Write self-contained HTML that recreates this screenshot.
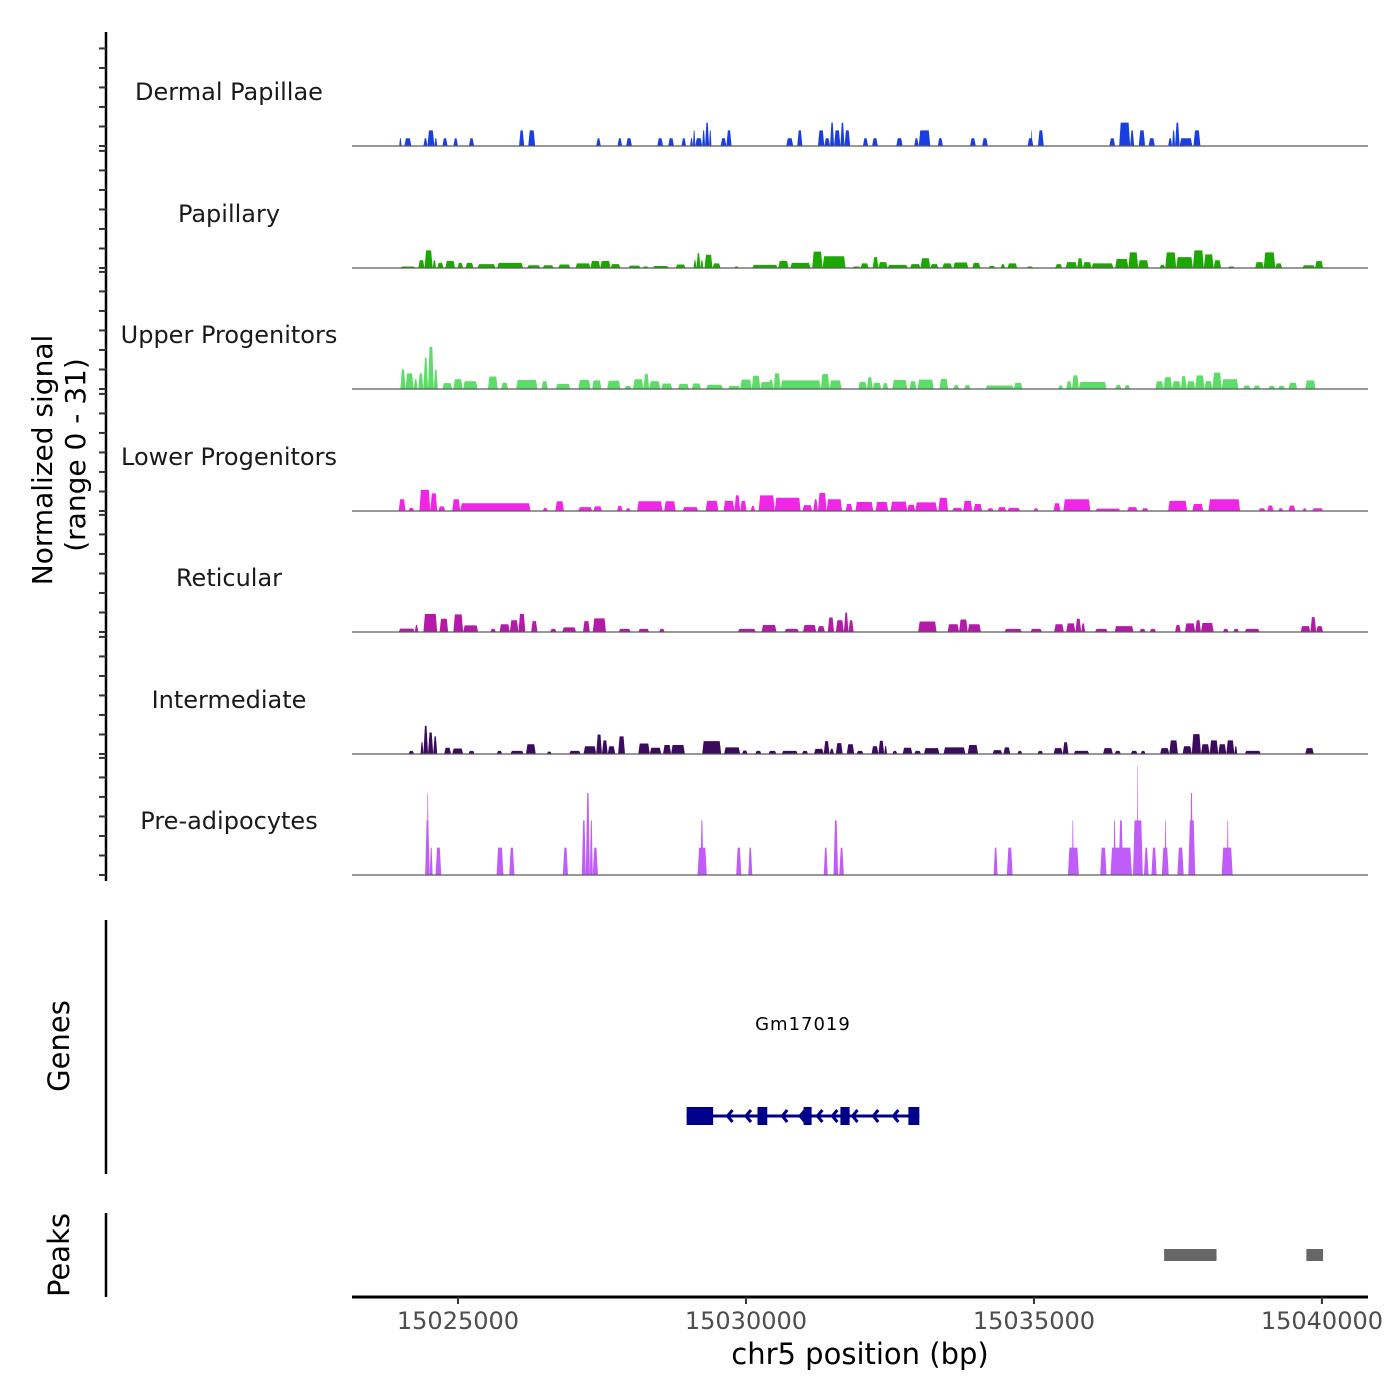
<!DOCTYPE html>
<html><head><meta charset="utf-8"><title>Coverage plot chr5</title>
<style>
html,body{margin:0;padding:0;background:#fff;}
svg{display:block;font-family:"DejaVu Sans","Liberation Sans",sans-serif;}
</style></head>
<body>
<svg id="chart" width="1400" height="1400" viewBox="0 0 1400 1400" xmlns="http://www.w3.org/2000/svg">
<rect x="0" y="0" width="1400" height="1400" fill="#fff"/>
<text transform="translate(52,460) rotate(-90)" text-anchor="middle" font-size="28" fill="#000">Normalized signal</text>
<text transform="translate(85,455) rotate(-90)" text-anchor="middle" font-size="28" fill="#000">(range 0 - 31)</text>
<text transform="translate(69,1046) rotate(-90)" text-anchor="middle" font-size="29" fill="#000">Genes</text>
<text transform="translate(69,1255) rotate(-90)" text-anchor="middle" font-size="29" fill="#000">Peaks</text>
<g id="tracks"></g>
<g id="genes"></g>
<g id="peaks"></g>
<g id="xaxis"></g>
<text x="860" y="1364" text-anchor="middle" font-size="29" fill="#000">chr5 position (bp)</text>
</svg>
<script>
// ---- data (positions in kb, values in normalized signal units) ----
const xDomainKb = [15023.16, 15040.8];
const yMax = 31;
const trackNames = ["Dermal Papillae","Papillary","Upper Progenitors","Lower Progenitors","Reticular","Intermediate","Pre-adipocytes"];
const trackColors = ["#1a3fe0","#1ca800","#5cdc68","#f026e6","#b41aa8","#3c0a5e","#c05cf8"];
const xTickValues = [15025000,15030000,15035000,15040000];
const xTickLabels = ["15025000","15030000","15035000","15040000"];

const dermalSegments = [[15023.98,15024.02,2],[15024.07,15024.19,2],[15024.40,15024.47,2],[15024.47,15024.59,4],[15024.59,15024.64,2],[15024.73,15024.82,2],[15024.92,15025.0,2],[15025.19,15025.28,2],[15026.06,15026.15,4],[15026.22,15026.34,4],[15027.40,15027.48,2],[15027.77,15027.85,2],[15027.92,15028.02,2],[15028.46,15028.56,2],[15028.65,15028.75,2],[15028.88,15028.96,2],[15029.03,15029.08,2],[15029.08,15029.12,4],[15029.12,15029.24,2],[15029.24,15029.29,4],[15029.29,15029.36,6],[15029.36,15029.40,4],[15029.56,15029.66,2],[15029.66,15029.75,4],[15030.70,15030.82,2],[15030.89,15030.98,4],[15031.25,15031.36,4],[15031.36,15031.46,2],[15031.46,15031.53,6],[15031.53,15031.64,4],[15031.64,15031.71,6],[15031.71,15031.81,4],[15032.03,15032.12,2],[15032.19,15032.29,2],[15032.61,15032.72,2],[15032.92,15033.0,2],[15033.0,15033.2,4],[15033.33,15033.42,2],[15033.89,15033.99,2],[15034.10,15034.20,2],[15034.89,15034.99,2],[15034.95,15034.97,4],[15035.07,15035.17,4],[15036.31,15036.41,2],[15036.48,15036.67,6],[15036.67,15036.74,4],[15036.82,15036.93,4],[15036.99,15037.1,2],[15037.33,15037.40,2],[15037.40,15037.45,4],[15037.45,15037.53,6],[15037.53,15037.75,2],[15037.77,15037.89,4]];

const papillarySegments = [[15024.00,15024.26,0.4],[15024.31,15024.42,2],[15024.42,15024.56,4.5],[15024.56,15024.62,2],[15024.64,15024.75,1.3],[15024.78,15024.95,1.8],[15024.99,15025.09,1.3],[15025.13,15025.27,1.3],[15025.34,15025.65,1],[15025.68,15026.13,1.3],[15026.20,15026.43,0.7],[15026.47,15026.66,0.7],[15026.74,15026.95,0.9],[15027.04,15027.30,1.2],[15027.30,15027.47,1.8],[15027.47,15027.65,1.8],[15027.65,15027.82,1],[15027.96,15028.17,0.6],[15028.20,15028.31,0.4],[15028.38,15028.66,0.5],[15028.78,15028.95,0.9],[15029.09,15029.14,2],[15029.14,15029.21,3.8],[15029.21,15029.26,2],[15029.28,15029.42,3.4],[15029.42,15029.56,1.2],[15029.79,15029.88,0.4],[15030.11,15030.55,0.8],[15030.56,15030.74,1.8],[15030.77,15031.12,1.3],[15031.15,15031.33,4.2],[15031.33,15031.73,3],[15031.85,15031.99,0.4],[15031.99,15032.13,1.2],[15032.20,15032.30,2.8],[15032.30,15032.46,1.5],[15032.46,15032.81,0.8],[15032.85,15033.03,1],[15033.03,15033.20,2.5],[15033.20,15033.34,1],[15033.41,15033.58,1.2],[15033.60,15033.86,1.4],[15033.93,15034.07,1.3],[15034.21,15034.33,0.5],[15034.42,15034.50,1],[15034.54,15034.71,1.2],[15034.87,15034.99,0.4],[15035.37,15035.49,1],[15035.55,15035.75,1.5],[15035.75,15035.85,2.5],[15035.85,15036.00,1.5],[15036.00,15036.38,1.2],[15036.41,15036.64,2.3],[15036.64,15036.81,4],[15036.81,15036.99,2],[15037.18,15037.28,0.8],[15037.28,15037.47,4],[15037.47,15037.76,2.8],[15037.76,15037.95,4.5],[15037.95,15038.12,3.5],[15038.12,15038.25,2],[15038.37,15038.49,0.4],[15038.84,15038.99,1.5],[15038.99,15039.19,4],[15039.19,15039.31,1.2],[15039.66,15039.88,0.7],[15039.88,15040.02,1.8]];

const upperSegments = [[15024.00,15024.09,5],[15024.09,15024.23,4],[15024.23,15024.30,2.5],[15024.31,15024.40,4],[15024.40,15024.48,8],[15024.48,15024.58,10.8],[15024.58,15024.65,5],[15024.73,15024.90,1.5],[15024.92,15025.08,2.5],[15025.09,15025.34,2],[15025.52,15025.69,3.2],[15025.75,15025.87,1.6],[15026.01,15026.38,2.3],[15026.45,15026.56,2],[15026.70,15026.95,1.3],[15027.09,15027.30,2.3],[15027.33,15027.49,2.2],[15027.59,15027.82,2.1],[15027.89,15028.01,0.8],[15028.04,15028.22,2.5],[15028.22,15028.32,3.8],[15028.32,15028.51,2],[15028.53,15028.72,1.4],[15028.82,15029.01,1.3],[15029.06,15029.22,1.4],[15029.31,15029.60,1.1],[15029.69,15029.90,0.8],[15029.90,15030.10,2.4],[15030.10,15030.25,3.4],[15030.25,15030.45,1.8],[15030.39,15030.48,2.3],[15030.48,15030.60,4],[15030.60,15031.30,2.2],[15031.30,15031.45,3.8],[15031.45,15031.66,2.2],[15031.95,15032.10,1.8],[15032.10,15032.20,3],[15032.20,15032.35,1.6],[15032.37,15032.47,1.5],[15032.54,15032.80,2.3],[15032.84,15032.96,2],[15032.98,15033.26,2.4],[15033.36,15033.51,2.6],[15033.60,15033.70,1],[15033.79,15033.90,1],[15034.16,15034.65,0.9],[15034.65,15034.80,1.6],[15035.42,15035.51,0.9],[15035.56,15035.66,2],[15035.66,15035.78,3.5],[15035.78,15036.26,1.8],[15036.41,15036.52,1],[15036.57,15036.67,1],[15037.11,15037.25,2],[15037.25,15037.40,3],[15037.40,15037.55,2],[15037.55,15037.65,3.3],[15037.65,15037.80,2],[15037.80,15037.96,3.5],[15037.96,15038.10,2],[15038.10,15038.26,4.2],[15038.26,15038.55,2.5],[15038.63,15038.76,0.9],[15038.81,15038.93,0.9],[15039.07,15039.19,0.8],[15039.24,15039.36,0.8],[15039.42,15039.57,1.6],[15039.71,15039.89,2.2]];

const lowerSegments = [[15023.97,15024.09,3],[15024.14,15024.24,0.8],[15024.33,15024.52,5.4],[15024.52,15024.64,4.5],[15024.66,15024.78,1.2],[15024.90,15025.04,3],[15025.04,15026.26,2],[15026.47,15026.56,0.8],[15026.69,15026.84,2.5],[15027.09,15027.33,1],[15027.35,15027.50,1.2],[15027.76,15027.86,1.3],[15027.91,15028.00,0.7],[15028.11,15028.55,2.5],[15028.58,15028.78,2.5],[15028.90,15029.17,1],[15029.30,15029.52,2.6],[15029.61,15029.80,2.6],[15029.80,15029.90,4],[15029.90,15030.01,2.6],[15030.08,15030.16,1.3],[15030.22,15030.50,4],[15030.50,15030.95,3.4],[15030.98,15031.15,1.5],[15031.17,15031.25,3],[15031.25,15031.40,4.6],[15031.40,15031.67,3],[15031.73,15031.85,1.8],[15031.90,15032.21,2.3],[15032.25,15032.47,2.3],[15032.51,15032.80,2.4],[15032.80,15032.94,1.6],[15032.94,15033.32,2.2],[15033.34,15033.51,3.4],[15033.58,15033.76,0.8],[15033.77,15033.93,2.6],[15033.95,15034.10,1.8],[15034.19,15034.30,0.7],[15034.37,15034.52,1],[15034.54,15034.76,0.8],[15034.99,15035.08,0.7],[15035.34,15035.46,2],[15035.51,15035.98,3],[15036.07,15036.50,0.6],[15036.62,15036.80,1],[15036.87,15036.99,0.7],[15037.33,15037.66,2.6],[15037.75,15037.94,1.8],[15038.03,15038.58,3],[15038.90,15039.02,0.7],[15039.05,15039.16,1.4],[15039.24,15039.33,0.7],[15039.42,15039.54,1.4],[15039.66,15039.74,0.7],[15039.83,15040.02,0.7]];

const reticularSegments = [[15023.97,15024.25,0.85],[15024.25,15024.31,1.8],[15024.40,15024.64,4.6],[15024.68,15024.83,3.4],[15024.92,15025.09,4.5],[15025.09,15025.35,1.7],[15025.56,15025.66,0.8],[15025.72,15025.90,2],[15025.90,15026.05,3],[15026.05,15026.17,4.6],[15026.27,15026.38,2.8],[15026.60,15026.71,0.8],[15026.81,15027.05,1.2],[15027.17,15027.29,2.8],[15027.34,15027.57,3.5],[15027.79,15028.00,0.8],[15028.13,15028.32,0.8],[15028.49,15028.59,0.8],[15029.86,15030.17,0.8],[15030.27,15030.53,1.8],[15030.67,15030.92,0.8],[15030.99,15031.22,1.8],[15031.24,15031.37,1.5],[15031.42,15031.53,3.7],[15031.56,15031.70,3],[15031.70,15031.78,5],[15031.78,15031.87,3],[15032.99,15033.31,2.7],[15033.50,15033.70,2],[15033.70,15033.85,3.2],[15033.85,15034.08,2],[15034.49,15034.79,0.8],[15034.94,15035.14,0.8],[15035.35,15035.52,2],[15035.56,15035.72,2.2],[15035.72,15035.82,3.4],[15035.82,15035.89,2.2],[15036.06,15036.28,0.8],[15036.40,15036.73,1.5],[15036.83,15036.94,0.8],[15037.01,15037.12,0.8],[15037.45,15037.55,1.8],[15037.62,15037.80,2.2],[15037.80,15037.90,3],[15037.90,15038.12,2.3],[15038.28,15038.38,0.8],[15038.46,15038.56,0.8],[15038.66,15038.92,0.8],[15039.63,15039.80,1.5],[15039.80,15039.90,3.8],[15039.90,15040.02,1.5]];

const intermediateSegments = [[15024.14,15024.24,0.8],[15024.35,15024.40,3],[15024.40,15024.48,7.2],[15024.48,15024.57,5.5],[15024.57,15024.64,4.5],[15024.76,15024.88,1.6],[15024.90,15025.09,1.4],[15025.18,15025.29,0.8],[15025.67,15025.77,0.8],[15025.91,15026.14,0.8],[15026.18,15026.35,2.5],[15026.54,15026.63,0.6],[15026.93,15027.13,0.8],[15027.18,15027.40,2],[15027.40,15027.50,5],[15027.50,15027.60,3.5],[15027.60,15027.73,2],[15027.78,15027.90,4.5],[15028.13,15028.33,2.7],[15028.33,15028.53,1.6],[15028.56,15028.70,2.3],[15028.70,15028.94,2.3],[15029.24,15029.57,3.3],[15029.62,15029.90,1.7],[15029.93,15030.03,0.9],[15030.16,15030.27,0.8],[15030.39,15030.53,0.8],[15030.62,15030.90,0.8],[15030.97,15031.08,0.8],[15031.18,15031.35,1.3],[15031.35,15031.45,3.3],[15031.45,15031.53,1.3],[15031.56,15031.68,2.8],[15031.75,15031.88,2.5],[15031.92,15032.04,0.8],[15032.18,15032.30,2],[15032.30,15032.40,3.4],[15032.40,15032.45,2],[15032.54,15032.63,0.8],[15032.72,15032.89,1.6],[15032.92,15033.04,0.8],[15033.09,15033.36,1.5],[15033.43,15033.81,1.7],[15033.85,15034.03,2.3],[15034.28,15034.45,1],[15034.47,15034.59,1.7],[15034.71,15034.80,0.8],[15035.06,15035.16,0.8],[15035.34,15035.50,1.5],[15035.50,15035.60,3],[15035.69,15035.96,0.8],[15036.20,15036.37,1.5],[15036.40,15036.51,0.8],[15036.68,15036.80,0.8],[15036.85,15036.94,0.8],[15037.19,15037.35,1.5],[15037.35,15037.50,3.5],[15037.58,15037.74,2],[15037.74,15037.90,5.1],[15037.90,15038.05,2.5],[15038.05,15038.20,3.5],[15038.20,15038.34,2.5],[15038.34,15038.48,3.5],[15038.48,15038.53,2],[15038.66,15038.94,0.8],[15039.71,15039.86,1.5]];

const preadipocyteSegments = [[15024.43,15024.51,14],[15024.46,15024.49,21],[15024.51,15024.56,7],[15024.61,15024.71,7],[15025.67,15025.79,7],[15025.89,15025.98,7],[15026.82,15026.91,7],[15027.15,15027.22,14],[15027.22,15027.29,21],[15027.29,15027.34,14],[15027.34,15027.43,7],[15029.16,15029.32,7],[15029.21,15029.26,14],[15029.83,15029.92,7],[15030.04,15030.11,7],[15031.35,15031.42,7],[15031.52,15031.60,14],[15031.62,15031.70,7],[15034.30,15034.37,7],[15034.53,15034.63,7],[15035.59,15035.78,7],[15035.66,15035.69,14],[15036.15,15036.26,7],[15036.33,15036.70,7],[15036.38,15036.42,14],[15036.47,15036.55,14],[15036.72,15036.89,14],[15036.79,15036.81,28],[15036.91,15036.99,7],[15037.04,15037.13,7],[15037.22,15037.34,7],[15037.27,15037.30,14],[15037.49,15037.60,7],[15037.68,15037.80,14],[15037.71,15037.76,21],[15038.26,15038.45,7],[15038.35,15038.38,14]];

const geneName = "Gm17019";
const geneSpanKb = [15028.97, 15033.01];
const exonStartsKb = [15028.97, 15030.20, 15031.00, 15031.64, 15032.82];
const exonEndsKb   = [15029.43, 15030.37, 15031.14, 15031.80, 15033.01];
const strandArrowKb = [15029.68, 15030.0, 15030.63, 15030.94, 15031.24, 15031.50, 15031.85, 15032.21, 15032.56];

const peakStartsKb = [15037.26, 15039.73];
const peakEndsKb   = [15038.17, 15040.02];

const trackSegments = [dermalSegments, papillarySegments, upperSegments, lowerSegments, reticularSegments, intermediateSegments, preadipocyteSegments];

// ---- layout / scales ----
const NS = "http://www.w3.org/2000/svg";
const plotLeft = 352, plotRight = 1368;
const trackBaselines = [146, 268, 389, 511, 632, 754, 875];
const trackHeight = 121;
function xKb(kb){ return plotLeft + (kb - xDomainKb[0]) / (xDomainKb[1] - xDomainKb[0]) * (plotRight - plotLeft); }
function xBp(bp){ return xKb(bp / 1000); }
function yVal(v, t){ return trackBaselines[t] - v / yMax * trackHeight; }
function mk(tag, attrs, parent){ const e = document.createElementNS(NS, tag); for (const k in attrs) e.setAttribute(k, attrs[k]); parent.appendChild(e); return e; }

const tracksG = document.getElementById('tracks');
const yAxis = mk('line', {x1:106, y1:32, x2:106, y2:881, stroke:'#000', 'stroke-width':2.5}, tracksG);


for (let t = 0; t < trackBaselines.length; t++) {
  for (let k = 0; k <= 30; k += 5) {
    const y = yVal(k, t);
    if (y < 32) continue;
    const tk = mk('line', {x1:99, y1:y, x2:106, y2:y, stroke:'#333', 'stroke-width':2}, tracksG);
    
    
  }
}

for (let t = 0; t < trackNames.length; t++) {
  const g = mk('g', {}, tracksG);
  
  
  const lbl = mk('text', {x:229, y:trackBaselines[t] - 46, 'text-anchor':'middle', 'font-size':24, fill:'#1a1a1a'}, g);
  lbl.textContent = trackNames[t];
  
  
  const base = trackBaselines[t];
  for (const seg of trackSegments[t]) {
    const x0 = xKb(seg[0]), x1 = xKb(seg[1]);
    const yt = yVal(seg[2], t);
    const s = Math.min(1.5, (x1 - x0) / 3);
    const p = mk('path', {d:`M${x0},${base}L${x0+s},${yt}L${x1-s},${yt}L${x1},${base}Z`, fill:trackColors[t]}, g);
    
    
  }
  const bl = mk('line', {x1:plotLeft, y1:base, x2:plotRight, y2:base, stroke:'#5a5a5a', 'stroke-width':1.2}, g);
  
  
}

// genes
const genesG = document.getElementById('genes');
const gAx = mk('line', {x1:106, y1:920, x2:106, y2:1174, stroke:'#000', 'stroke-width':2.5}, genesG);


const gLine = mk('line', {x1:xKb(geneSpanKb[0]), y1:1116, x2:xKb(geneSpanKb[1]), y2:1116, stroke:'#00008b', 'stroke-width':3}, genesG);


for (const a of strandArrowKb) {
  const x = xKb(a);
  const ar = mk('path', {d:`M${x+5},${1110}L${x},${1116}L${x+5},${1122}`, fill:'none', stroke:'#00008b', 'stroke-width':3}, genesG);
  
  
}
for (let i = 0; i < exonStartsKb.length; i++) {
  const r = mk('rect', {x:xKb(exonStartsKb[i]), y:1107, width:xKb(exonEndsKb[i]) - xKb(exonStartsKb[i]), height:18, fill:'#00008b'}, genesG);
  
  
}
const gName = mk('text', {x:(xKb(geneSpanKb[0]) + xKb(geneSpanKb[1])) / 2, y:1030, 'text-anchor':'middle', 'font-size':18, fill:'#000', 'letter-spacing':'1'}, genesG);
gName.textContent = geneName;



// peaks
const peaksG = document.getElementById('peaks');
const pAx = mk('line', {x1:106, y1:1213, x2:106, y2:1297, stroke:'#000', 'stroke-width':2.5}, peaksG);


for (let i = 0; i < peakStartsKb.length; i++) {
  const r = mk('rect', {x:xKb(peakStartsKb[i]), y:1249, width:xKb(peakEndsKb[i]) - xKb(peakStartsKb[i]), height:12, fill:'#676767'}, peaksG);
  
  
}

// x axis
const xG = document.getElementById('xaxis');
const xl = mk('line', {x1:plotLeft, y1:1297, x2:plotRight, y2:1297, stroke:'#000', 'stroke-width':3}, xG);


for (let i = 0; i < xTickValues.length; i++) {
  const x = xBp(xTickValues[i]);
  const tk = mk('line', {x1:x, y1:1297, x2:x, y2:1304, stroke:'#333', 'stroke-width':2}, xG);
  
  
  const tl = mk('text', {x:x, y:1329, 'text-anchor':'middle', 'font-size':24, fill:'#4d4d4d'}, xG);
  tl.textContent = xTickLabels[i];
  
  
}
</script>
</body></html>
